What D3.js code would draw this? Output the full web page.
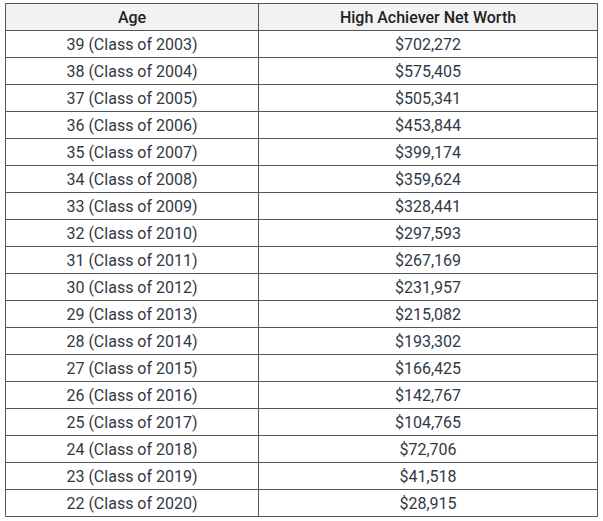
<!DOCTYPE html>
<html><head><meta charset="utf-8">
<script src="https://cdn.jsdelivr.net/npm/d3@7"></script>
<style>body{margin:0;background:#fff}</style>
</head><body>
<script>
var headers = ["Age", "High Achiever Net Worth"];
var ages = ["39 (Class of 2003)","38 (Class of 2004)","37 (Class of 2005)","36 (Class of 2006)","35 (Class of 2007)","34 (Class of 2008)","33 (Class of 2009)","32 (Class of 2010)","31 (Class of 2011)","30 (Class of 2012)","29 (Class of 2013)","28 (Class of 2014)","27 (Class of 2015)","26 (Class of 2016)","25 (Class of 2017)","24 (Class of 2018)","23 (Class of 2019)","22 (Class of 2020)"];
var netWorth = [702272,575405,505341,453844,399174,359624,328441,297593,267169,231957,215082,193302,166425,142767,104765,72706,41518,28915];

var width = 603, height = 521;
var tLeft = 5.5, tRight = 597.5, tTop = 3.5, tSplit = 258.5, rowH = 27;
var fmt = d3.format("$,");

var svg = d3.select("body").append("svg")
    .attr("width", width)
    .attr("height", height)
    .style("font-family", "Roboto, sans-serif");

var y = d3.scaleBand().domain(d3.range(ages.length + 1)).range([tTop, tTop + rowH * (ages.length + 1)]);

svg.append("rect").attr("x", tLeft).attr("y", tTop).attr("width", tRight - tLeft).attr("height", rowH).attr("fill", "#f2f2f2");

var lines = svg.append("g").attr("stroke", "#555").attr("stroke-width", 1);
d3.range(ages.length + 2).forEach(function (i) {
  var yy = tTop + i * rowH;
  lines.append("line").attr("x1", tLeft).attr("x2", tRight).attr("y1", yy).attr("y2", yy);
});
[tLeft, tSplit, tRight].forEach(function (x) {
  lines.append("line").attr("x1", x).attr("x2", x).attr("y1", tTop).attr("y2", tTop + rowH * (ages.length + 1));
});

var cx1 = (tLeft + tSplit) / 2, cx2 = (tSplit + tRight) / 2;
headers.forEach(function (h, i) {
  svg.append("text").attr("x", i ? cx2 : cx1).attr("y", y(0) + rowH / 2).attr("dy", "0.35em")
    .attr("text-anchor", "middle").attr("font-size", 16).attr("font-weight", 500).attr("fill", "#222").text(h);
});

var rows = svg.selectAll(".row").data(ages).join("g").attr("class", "row");
rows.append("text").attr("x", cx1).attr("y", function (d, i) { return y(i + 1) + rowH / 2; })
  .attr("dy", "0.35em").attr("text-anchor", "middle").attr("font-size", 16).attr("fill", "#2f3a45").text(function (d) { return d; });
rows.append("text").attr("x", cx2).attr("y", function (d, i) { return y(i + 1) + rowH / 2; })
  .attr("dy", "0.35em").attr("text-anchor", "middle").attr("font-size", 16).attr("fill", "#2f3a45").text(function (d, i) { return fmt(netWorth[i]); });
</script>
</body></html>
